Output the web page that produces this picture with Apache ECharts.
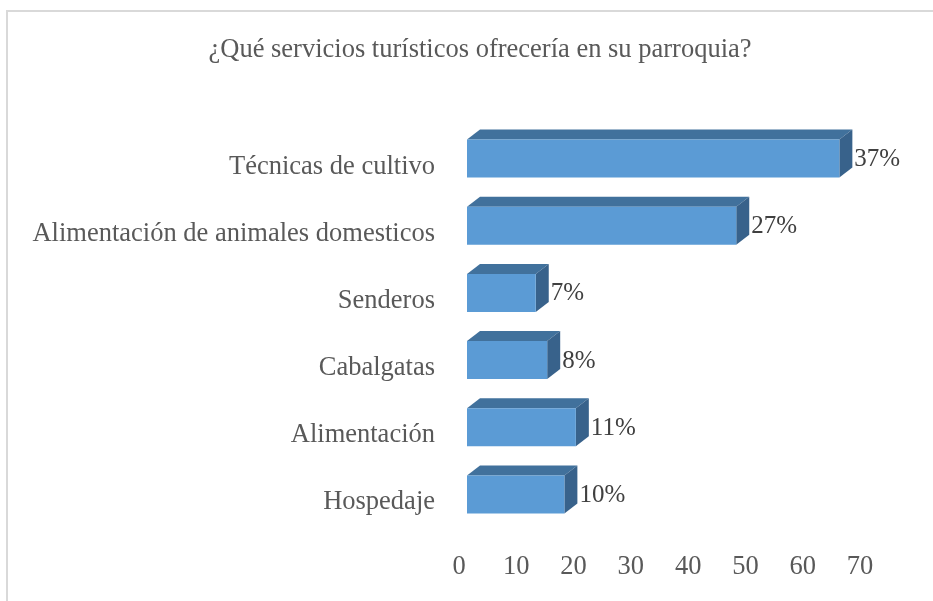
<!DOCTYPE html>
<html>
<head>
<meta charset="utf-8">
<script src="https://cdn.jsdelivr.net/npm/echarts@6/dist/echarts.min.js"></script>
<style>
  html, body { margin: 0; padding: 0; background: #fff; }
  #chart { width: 933px; height: 601px; }
</style>
</head>
<body>
<div id="chart"></div>
<script>
const categories = [
  'Técnicas de cultivo',
  'Alimentación de animales domesticos',
  'Senderos',
  'Cabalgatas',
  'Alimentación',
  'Hospedaje'
]
const counts = [65, 47, 12, 14, 19, 17]
const percentLabels = ['37%', '27%', '7%', '8%', '11%', '10%']
const xTicks = { min: 0, max: 70, interval: 10 }

const FONT = '"Liberation Serif", "Times New Roman", serif'
const FRONT = '#5b9bd5'
const TOP = '#41719c'
const SIDE = '#38628b'

// desplazamiento de la cara frontal respecto al piso (efecto 3D)
const SHIFT_X = 8
const SHIFT_Y = 8
const DEPTH_X = 13
const DEPTH_Y = 10

const chart = echarts.init(document.getElementById('chart'))

function renderBar(params, api) {
  const idx = params.dataIndex
  const start = api.coord([0, api.value(1)])
  const end = api.coord([api.value(0), api.value(1)])
  const band = api.size([0, 1])[1]
  const h = band * 0.565
  const x0 = start[0] + SHIFT_X
  const x1 = end[0] + SHIFT_X
  const yc = start[1] - SHIFT_Y
  const y0 = yc - h / 2
  const y1 = yc + h / 2
  return {
    type: 'group',
    children: [
      {
        type: 'polygon',
        shape: { points: [[x0, y0], [x0 + DEPTH_X, y0 - DEPTH_Y], [x1 + DEPTH_X, y0 - DEPTH_Y], [x1, y0]] },
        style: { fill: TOP }
      },
      {
        type: 'polygon',
        shape: { points: [[x1, y0], [x1 + DEPTH_X, y0 - DEPTH_Y], [x1 + DEPTH_X, y1 - DEPTH_Y], [x1, y1]] },
        style: { fill: SIDE }
      },
      {
        type: 'rect',
        shape: { x: x0, y: y0, width: x1 - x0, height: h },
        style: { fill: FRONT }
      },
      {
        type: 'text',
        style: {
          text: percentLabels[idx],
          x: x1 + DEPTH_X + 2,
          y: yc + 1,
          verticalAlign: 'middle',
          align: 'left',
          fill: '#404040',
          font: '25px ' + FONT
        }
      }
    ]
  }
}

const option = {
  backgroundColor: '#fff',
  animation: false,
  title: {
    text: '¿Qué servicios turísticos ofrecería en su parroquia?',
    left: 475,
    top: 32,
    textAlign: 'center',
    textStyle: {
      fontFamily: FONT,
      fontSize: 26.5,
      fontWeight: 'normal',
      color: '#595959'
    }
  },
  graphic: [
    {
      type: 'rect',
      shape: { x: 7, y: 11, width: 960, height: 620 },
      style: { fill: 'none', stroke: '#d9d9d9', lineWidth: 2 },
      silent: true
    }
  ],
  grid: {
    left: 459,
    right: 73,
    top: 133,
    bottom: 65
  },
  xAxis: {
    type: 'value',
    min: xTicks.min,
    max: xTicks.max,
    interval: xTicks.interval,
    axisLine: { show: false },
    axisTick: { show: false },
    splitLine: { show: false },
    axisLabel: {
      margin: 18,
      color: '#595959',
      fontFamily: FONT,
      fontSize: 26.5
    }
  },
  yAxis: {
    type: 'category',
    inverse: true,
    data: categories,
    axisLine: { show: false },
    axisTick: { show: false },
    axisLabel: {
      margin: 24,
      color: '#595959',
      fontFamily: FONT,
      fontSize: 26.5
    }
  },
  series: [
    {
      type: 'custom',
      renderItem: renderBar,
      encode: { x: 0, y: 1 },
      data: counts.map((v, i) => [v, i])
    }
  ]
}

chart.setOption(option)
</script>
</body>
</html>
